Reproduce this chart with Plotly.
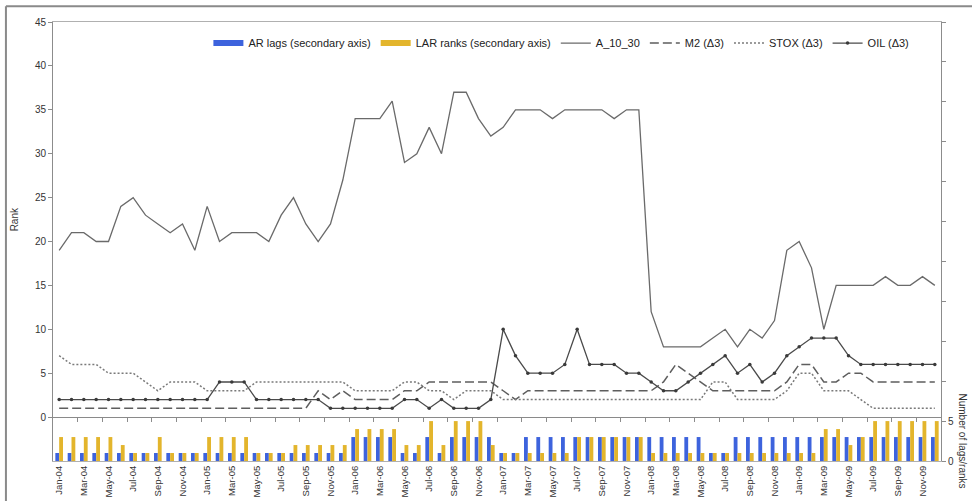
import plotly.graph_objects as go

months = [
    "Jan-04", "Feb-04", "Mar-04", "Apr-04", "May-04", "Jun-04", "Jul-04", "Aug-04", "Sep-04", "Oct-04", "Nov-04", "Dec-04",
    "Jan-05", "Feb-05", "Mar-05", "Apr-05", "May-05", "Jun-05", "Jul-05", "Aug-05", "Sep-05", "Oct-05", "Nov-05", "Dec-05",
    "Jan-06", "Feb-06", "Mar-06", "Apr-06", "May-06", "Jun-06", "Jul-06", "Aug-06", "Sep-06", "Oct-06", "Nov-06", "Dec-06",
    "Jan-07", "Feb-07", "Mar-07", "Apr-07", "May-07", "Jun-07", "Jul-07", "Aug-07", "Sep-07", "Oct-07", "Nov-07", "Dec-07",
    "Jan-08", "Feb-08", "Mar-08", "Apr-08", "May-08", "Jun-08", "Jul-08", "Aug-08", "Sep-08", "Oct-08", "Nov-08", "Dec-08",
    "Jan-09", "Feb-09", "Mar-09", "Apr-09", "May-09", "Jun-09", "Jul-09", "Aug-09", "Sep-09", "Oct-09", "Nov-09", "Dec-09",
]

a_10_30 = [
    19, 21, 21, 20, 20, 24, 25, 23, 22, 21, 22, 19,
    24, 20, 21, 21, 21, 20, 23, 25, 22, 20, 22, 27,
    34, 34, 34, 36, 29, 30, 33, 30, 37, 37, 34, 32,
    33, 35, 35, 35, 34, 35, 35, 35, 35, 34, 35, 35,
    12, 8, 8, 8, 8, 9, 10, 8, 10, 9, 11, 19,
    20, 17, 10, 15, 15, 15, 15, 16, 15, 15, 16, 15,
]
m2 = [
    1, 1, 1, 1, 1, 1, 1, 1, 1, 1, 1, 1,
    1, 1, 1, 1, 1, 1, 1, 1, 1, 3, 2, 3,
    2, 2, 2, 2, 3, 3, 4, 4, 4, 4, 4, 4,
    3, 2, 3, 3, 3, 3, 3, 3, 3, 3, 3, 3,
    3, 4, 6, 5, 4, 3, 3, 3, 3, 3, 3, 4,
    6, 6, 4, 4, 5, 5, 4, 4, 4, 4, 4, 4,
]
stox = [
    7, 6, 6, 6, 5, 5, 5, 4, 3, 4, 4, 4,
    3, 3, 3, 3, 4, 4, 4, 4, 4, 4, 4, 4,
    3, 3, 3, 3, 4, 4, 3, 3, 2, 3, 3, 3,
    2, 2, 2, 2, 2, 2, 2, 2, 2, 2, 2, 2,
    2, 2, 2, 2, 2, 4, 4, 2, 2, 2, 2, 3,
    5, 5, 3, 3, 3, 2, 1, 1, 1, 1, 1, 1,
]
oil = [
    2, 2, 2, 2, 2, 2, 2, 2, 2, 2, 2, 2,
    2, 4, 4, 4, 2, 2, 2, 2, 2, 2, 1, 1,
    1, 1, 1, 1, 2, 2, 1, 2, 1, 1, 1, 2,
    10, 7, 5, 5, 5, 6, 10, 6, 6, 6, 5, 5,
    4, 3, 3, 4, 5, 6, 7, 5, 6, 4, 5, 7,
    8, 9, 9, 9, 7, 6, 6, 6, 6, 6, 6, 6,
]
ar_lags = [
    1, 1, 1, 1, 1, 1, 1, 1, 1, 1, 1, 1,
    1, 1, 1, 1, 1, 1, 1, 1, 1, 1, 1, 1,
    3, 3, 3, 3, 1, 1, 3, 1, 3, 3, 3, 3,
    1, 1, 3, 3, 3, 3, 3, 3, 3, 3, 3, 3,
    3, 3, 3, 3, 3, 1, 1, 3, 3, 3, 3, 3,
    3, 3, 3, 3, 3, 3, 3, 3, 3, 3, 3, 3,
]
lar_ranks = [
    3, 3, 3, 3, 3, 2, 1, 1, 3, 1, 1, 1,
    3, 3, 3, 3, 1, 1, 1, 2, 2, 2, 2, 2,
    4, 4, 4, 4, 2, 2, 5, 2, 5, 5, 5, 2,
    1, 1, 1, 1, 1, 1, 3, 3, 3, 3, 3, 3,
    1, 1, 1, 1, 1, 1, 1, 1, 1, 1, 1, 1,
    1, 1, 4, 4, 2, 3, 5, 5, 5, 5, 5, 5,
]

rank_ticks = [0, 5, 10, 15, 20, 25, 30, 35, 40, 45]
sec_ticks = [0, 5, 10, 15, 20, 25, 30, 35, 40, 45, 50, 55]
sec_ticktext = ["0", "5", "", "", "", "", "", "", "", "", "", ""]
tick_labels = months[::2]

x_idx = list(range(len(months)))
tick_pos = x_idx[::2]
between_pos = [i + 1.5 for i in x_idx[::2]]

FONT = "Liberation Sans, Arial, sans-serif"
AXIS_GRAY = "#8c8c8c"
BLUE = "#3d63dd"
YELLOW = "#e3b52c"

fig = go.Figure()
# legend entries for the bar series (wide swatches like the original)
fig.add_trace(go.Scatter(x=[None], y=[None], mode="lines", name="AR lags (secondary axis)",
                         line=dict(color=BLUE, width=6), legendgroup="ar", hoverinfo="skip"))
fig.add_trace(go.Scatter(x=[None], y=[None], mode="lines", name="LAR ranks (secondary axis)",
                         line=dict(color=YELLOW, width=6), legendgroup="lar", hoverinfo="skip"))
fig.add_trace(go.Bar(x=x_idx, y=ar_lags, name="AR lags (secondary axis)", showlegend=False,
                     legendgroup="ar", marker=dict(color=BLUE, line=dict(width=0)), yaxis="y2"))
fig.add_trace(go.Bar(x=x_idx, y=lar_ranks, name="LAR ranks (secondary axis)", showlegend=False,
                     legendgroup="lar", marker=dict(color=YELLOW, line=dict(width=0)), yaxis="y2"))
fig.add_trace(go.Scatter(x=x_idx, y=a_10_30, mode="lines", name="A_10_30",
                         line=dict(color="#6a6a6a", width=1.3)))
fig.add_trace(go.Scatter(x=x_idx, y=m2, mode="lines", name="M2 (Δ3)",
                         line=dict(color="#5e5e5e", width=1.5, dash="9px,4px")))
fig.add_trace(go.Scatter(x=x_idx, y=stox, mode="lines", name="STOX (Δ3)",
                         line=dict(color="#7a7a7a", width=1.5, dash="2px,2px")))
fig.add_trace(go.Scatter(x=x_idx, y=oil, mode="lines+markers", name="OIL (Δ3)",
                         line=dict(color="#4a4a4a", width=1.3),
                         marker=dict(color="#3a3a3a", size=3.5)))
# helper trace so the category-boundary tick axis on the zero line is drawn
fig.add_trace(go.Scatter(x=[0], y=[0], xaxis="x2", mode="markers",
                         marker=dict(opacity=0), showlegend=False, hoverinfo="skip"))

fig.update_layout(
    width=972, height=501,
    margin=dict(l=53, r=31, t=22, b=40, autoexpand=False),
    paper_bgcolor="white", plot_bgcolor="white",
    font=dict(family=FONT, color="#333333", size=10),
    barmode="group", bargap=0.38, bargroupgap=0,
    showlegend=True,
    legend=dict(orientation="h", x=0.175, y=0.952, xanchor="left", yanchor="middle",
                bgcolor="rgba(0,0,0,0)", font=dict(size=11, color="#222222"),
                itemwidth=30, tracegroupgap=0),
    xaxis=dict(range=[-0.5, 71.5], tickmode="array", tickvals=tick_pos, ticktext=tick_labels,
               tickangle=-90, tickfont=dict(size=9.5, color="#333333"), automargin=False,
               showline=True, linecolor="#b0b0b0", linewidth=1, mirror=True,
               ticks="", showgrid=False, zeroline=False),
    xaxis2=dict(range=[-0.5, 71.5], overlaying="x", anchor="free", position=0.1,
                tickmode="array", tickvals=between_pos, ticks="outside", ticklen=4,
                tickcolor=AXIS_GRAY, showticklabels=False, showline=False, automargin=False,
                showgrid=False, zeroline=False),
    yaxis=dict(range=[-5, 45], tickmode="array", tickvals=rank_ticks, automargin=False,
               ticks="outside", ticklen=4, tickcolor=AXIS_GRAY,
               showline=True, linecolor=AXIS_GRAY, linewidth=1,
               showgrid=False, zeroline=True, zerolinecolor="#8a8a8a", zerolinewidth=1.2,
               tickfont=dict(size=10, color="#333333")),
    yaxis2=dict(range=[0, 55], overlaying="y", side="right", tickmode="array", automargin=False,
                tickvals=sec_ticks, ticktext=sec_ticktext, ticks="outside", ticklen=4,
                tickcolor=AXIS_GRAY, showline=True, linecolor=AXIS_GRAY, linewidth=1,
                showgrid=False, zeroline=False, tickfont=dict(size=10, color="#333333")),
)

fig.add_annotation(text="Rank", xref="paper", yref="paper", x=-0.043, y=0.55,
                   xanchor="center", yanchor="middle",
                   textangle=-90, showarrow=False, font=dict(size=10, color="#333333"))
fig.add_annotation(text="Number of lags/ranks", xref="paper", yref="paper", x=1.0245, y=0.045,
                   xanchor="center", yanchor="middle",
                   textangle=90, showarrow=False, font=dict(size=10, color="#333333"))

# outer chart frame (top and left edges visible)
fig.add_shape(type="line", xref="paper", yref="paper", x0=-0.053, x1=1.04, y0=1.036, y1=1.036,
              line=dict(color="#8a8a8a", width=2))
fig.add_shape(type="line", xref="paper", yref="paper", x0=-0.053, x1=-0.053, y0=1.036, y1=-0.1,
              line=dict(color="#8a8a8a", width=2))

fig.write_html("out.html", config={"displayModeBar": False},
               post_script="document.body.style.margin='0';document.body.style.padding='0';")
